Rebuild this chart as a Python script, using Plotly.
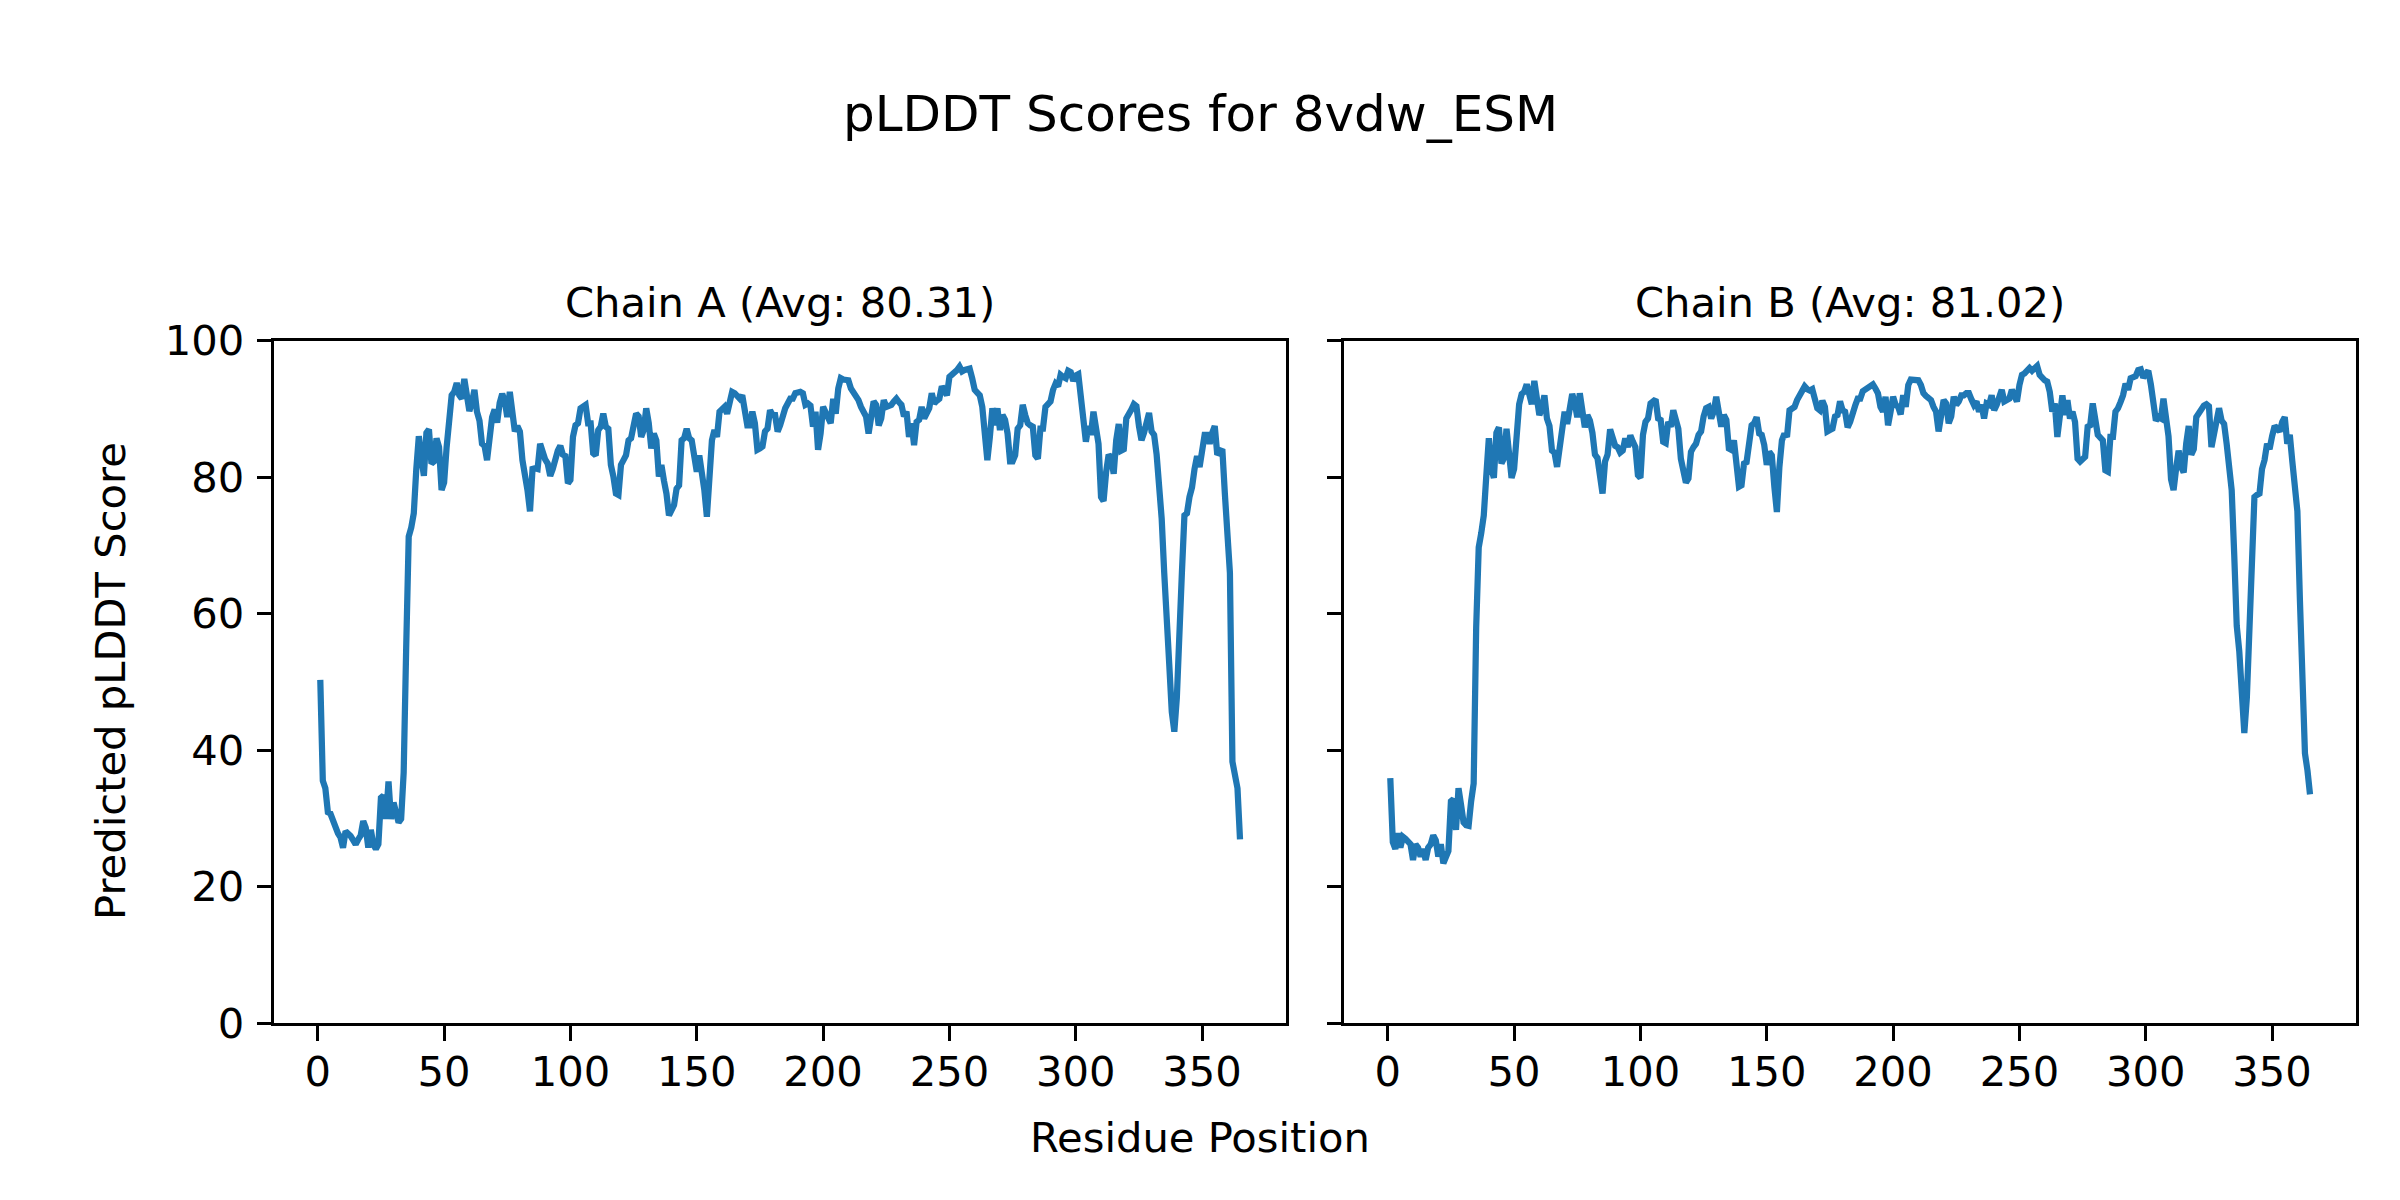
import plotly.graph_objects as go

# ---------------- data ----------------
chain_a_scores = [
    50.3, 35.5, 34.4, 30.9, 30.7, 29.5, 28.6, 27.8, 27.2, 25.7,
    28.1, 27.8, 27.4, 26.8, 26.2, 26.9, 27.5, 29.6, 28.6, 25.7,
    28.3, 26.2, 25.5, 26.2, 33.0, 33.3, 29.9, 35.4, 29.9, 32.3,
    30.5, 29.4, 29.9, 36.7, 55.0, 71.3, 72.6, 74.7, 81.2, 86.0,
    82.8, 80.2, 86.5, 87.0, 82.0, 82.3, 85.7, 84.4, 78.1, 79.2,
    84.4, 89.6, 92.0, 92.5, 93.8, 92.0, 91.5, 94.4, 92.2, 89.7,
    90.9, 92.8, 89.6, 88.3, 84.9, 84.6, 82.5, 86.0, 88.8, 89.9,
    88.0, 90.9, 92.2, 91.2, 88.8, 92.5, 89.9, 86.7, 87.5, 86.7,
    82.5, 80.7, 78.1, 75.0, 81.2, 81.3, 81.2, 84.9, 83.3, 82.6,
    82.0, 80.2, 81.2, 83.1, 83.9, 84.6, 83.3, 83.1, 79.1, 79.6,
    85.9, 87.6, 87.9, 90.1, 90.3, 90.6, 87.9, 87.9, 83.5, 83.2,
    86.9, 87.4, 89.3, 87.4, 87.1, 81.8, 80.1, 77.6, 77.4, 81.8,
    82.5, 83.2, 85.4, 85.7, 87.5, 89.3, 88.9, 85.9, 86.9, 90.1,
    87.9, 84.2, 86.4, 85.4, 80.1, 81.8, 79.5, 77.6, 74.4, 75.2,
    75.9, 78.3, 78.8, 85.4, 85.7, 87.1, 85.7, 85.4, 83.5, 80.8,
    83.2, 81.0, 78.1, 74.2, 82.0, 85.4, 86.9, 85.9, 89.6, 90.0,
    90.3, 89.3, 91.1, 92.5, 92.3, 91.8, 91.5, 92.0, 89.8, 87.6,
    87.6, 89.6, 87.9, 84.0, 84.2, 84.5, 86.7, 87.1, 89.8, 89.1,
    89.1, 86.7, 87.6, 89.1, 90.1, 90.8, 91.5, 91.5, 92.3, 92.4,
    92.5, 92.3, 90.6, 90.8, 90.5, 87.4, 89.6, 84.0, 86.4, 90.3,
    89.3, 88.6, 87.9, 91.5, 89.3, 93.0, 94.5, 94.3, 94.2, 94.2,
    93.0, 92.5, 92.0, 91.3, 90.3, 89.3, 88.9, 86.4, 89.6, 91.1,
    90.6, 87.6, 88.6, 91.3, 90.3, 90.5, 90.6, 91.1, 91.5, 91.0,
    90.6, 88.9, 89.6, 85.9, 87.9, 84.7, 88.1, 88.4, 90.3, 88.6,
    89.5, 90.1, 92.3, 90.8, 91.2, 91.5, 93.3, 92.8, 92.0, 94.7,
    95.0, 95.3, 95.7, 96.2, 95.5, 95.7, 95.9, 95.9, 94.5, 92.8,
    92.4, 92.0, 90.3, 87.0, 82.5, 85.9, 90.1, 87.6, 90.1, 86.9,
    89.1, 88.4, 86.4, 82.3, 82.3, 83.2, 87.1, 87.6, 90.6, 89.1,
    87.9, 87.6, 87.4, 83.2, 82.7, 87.1, 87.1, 90.3, 90.7, 91.1,
    92.8, 93.7, 93.3, 95.0, 94.7, 94.5, 95.6, 95.4, 94.1, 94.9,
    95.1, 91.5, 88.6, 85.2, 87.5, 86.2, 89.6, 87.0, 84.9, 77.1,
    76.5, 80.7, 83.3, 82.8, 80.5, 85.4, 87.8, 83.9, 84.1, 88.6,
    89.1, 89.9, 90.7, 90.4, 87.5, 85.4, 86.5, 88.1, 89.4, 86.7,
    86.2, 83.3, 79.1, 73.9, 66.0, 57.0, 52.5, 45.6, 42.7, 47.7,
    55.0, 66.0, 74.4, 74.7, 77.1, 78.5, 81.2, 83.1, 81.5, 83.3,
    86.2, 86.2, 84.9, 86.5, 87.5, 83.3, 83.6, 84.1, 77.6, 72.3,
    66.0, 38.3, 36.5, 34.4, 26.9,
]

chain_b_scores = [
    35.9, 26.5, 25.5, 27.8, 25.7, 27.3, 27.0, 26.6, 26.2, 23.9,
    26.2, 25.7, 24.4, 25.5, 23.9, 25.7, 26.2, 27.5, 26.8, 24.4,
    26.2, 23.4, 24.1, 25.2, 32.5, 32.8, 28.3, 34.4, 32.0, 29.4,
    29.0, 28.9, 32.5, 35.1, 58.0, 69.7, 71.8, 74.4, 80.2, 85.7,
    81.2, 79.9, 86.5, 87.3, 82.0, 82.8, 87.1, 83.9, 79.9, 81.2,
    85.4, 90.7, 92.2, 92.5, 93.6, 91.5, 90.7, 94.1, 92.0, 89.1,
    90.1, 92.0, 88.6, 87.5, 83.9, 83.6, 81.5, 84.4, 88.1, 89.6,
    87.8, 90.7, 92.2, 90.9, 88.8, 92.3, 89.9, 87.3, 89.1, 88.3,
    86.5, 83.3, 82.8, 80.2, 77.6, 82.3, 83.3, 87.0, 85.7, 84.6,
    84.4, 83.6, 83.9, 85.7, 84.4, 86.1, 85.2, 84.4, 80.3, 79.9,
    86.2, 88.1, 88.6, 90.8, 91.1, 91.4, 88.6, 88.4, 85.2, 85.0,
    88.1, 87.4, 89.8, 88.4, 87.1, 82.7, 80.5, 79.2, 79.8, 83.7,
    84.4, 84.9, 86.2, 86.7, 88.9, 90.1, 90.3, 88.6, 89.6, 91.8,
    89.6, 87.4, 89.1, 88.4, 84.2, 84.0, 85.4, 81.5, 78.6, 78.8,
    82.0, 82.2, 84.9, 87.6, 87.9, 88.8, 86.4, 86.2, 84.7, 81.8,
    83.7, 83.2, 78.6, 74.9, 81.5, 85.4, 86.4, 85.9, 89.8, 90.1,
    90.3, 91.3, 92.0, 93.0, 93.3, 92.9, 92.7, 92.9, 91.8, 90.1,
    89.8, 91.2, 90.3, 86.7, 86.9, 87.1, 88.9, 89.1, 91.1, 89.8,
    89.6, 87.3, 88.1, 89.6, 90.5, 91.5, 91.5, 92.6, 92.8, 93.0,
    93.3, 93.6, 93.0, 92.3, 90.3, 89.6, 91.8, 87.6, 89.6, 91.8,
    90.6, 90.3, 89.2, 92.0, 90.3, 93.5, 94.3, 94.2, 94.1, 94.2,
    93.5, 92.3, 91.9, 91.6, 91.3, 90.3, 89.6, 86.7, 89.1, 91.3,
    90.8, 87.9, 88.9, 91.8, 90.6, 91.1, 92.0, 92.0, 92.3, 92.3,
    91.4, 90.6, 91.1, 89.6, 90.6, 88.6, 90.8, 90.6, 92.0, 89.8,
    90.6, 91.8, 92.8, 91.1, 91.3, 91.5, 92.8, 91.7, 91.1, 93.5,
    95.0, 95.2, 95.6, 96.0, 95.6, 96.0, 96.3, 95.0, 94.5, 94.2,
    94.0, 92.5, 89.6, 90.8, 85.9, 89.1, 92.0, 89.1, 91.3, 88.6,
    89.6, 88.1, 82.7, 82.3, 82.6, 83.0, 87.4, 87.6, 90.8, 88.6,
    86.2, 85.8, 85.4, 81.0, 80.8, 85.9, 85.9, 89.6, 90.1, 91.0,
    92.0, 93.7, 92.8, 94.5, 94.6, 94.8, 95.7, 95.8, 94.6, 95.0,
    95.6, 93.6, 90.7, 88.3, 88.8, 88.6, 91.5, 88.3, 86.0, 79.7,
    78.1, 81.2, 83.9, 81.5, 80.7, 84.9, 87.5, 83.3, 84.1, 88.8,
    89.4, 90.1, 90.5, 90.7, 90.4, 84.4, 86.0, 88.1, 90.1, 88.3,
    87.8, 84.9, 81.2, 78.1, 68.7, 58.2, 54.5, 47.5, 42.5, 47.7,
    56.6, 67.0, 77.1, 77.4, 77.6, 81.2, 82.5, 84.9, 84.1, 86.0,
    87.5, 87.1, 86.7, 88.1, 88.8, 84.9, 86.2, 82.3, 79.1, 75.0,
    62.0, 48.0, 39.5, 37.0, 33.5,
]

residues_a = list(range(1, len(chain_a_scores) + 1))
residues_b = list(range(1, len(chain_b_scores) + 1))

chain_titles = ["Chain A (Avg: 80.31)", "Chain B (Avg: 81.02)"]
x_tick_vals = [0, 50, 100, 150, 200, 250, 300, 350]
y_tick_vals = [0, 20, 40, 60, 80, 100]
main_title = "pLDDT Scores for 8vdw_ESM"
x_label = "Residue Position"
y_label = "Predicted pLDDT Score"

# ---------------- figure ----------------
W, H = 2400, 1200
FONT = "DejaVu Sans"
LINE_BLUE = "#1f77b4"
TICK_PX = 41.67

fig = go.Figure()
fig.add_trace(go.Scatter(x=residues_a, y=chain_a_scores, mode="lines",
                         line=dict(color=LINE_BLUE, width=6.25),
                         xaxis="x", yaxis="y", showlegend=False))
fig.add_trace(go.Scatter(x=residues_b, y=chain_b_scores, mode="lines",
                         line=dict(color=LINE_BLUE, width=6.25),
                         xaxis="x2", yaxis="y2", showlegend=False))

left_dom = [274.3 / W, 1286.0 / W]
right_dom = [1344.3 / W, 2356.0 / W]
y_dom = [1 - 1023.0 / H, 1 - 340.7 / H]

def xaxis_cfg(domain, anchor):
    return dict(domain=domain, anchor=anchor, range=[-17.2, 383.2],
                tickmode="array", tickvals=x_tick_vals,
                ticks="outside", ticklen=14.6, tickwidth=3.33, tickcolor="black",
                showline=True, linewidth=3.33, linecolor="black", mirror=True,
                showgrid=False, zeroline=False,
                tickfont=dict(family=FONT, size=TICK_PX, color="black"),
                ticklabelstandoff=-5)

def yaxis_cfg(anchor, labels):
    return dict(domain=y_dom, anchor=anchor, range=[0, 100],
                tickmode="array", tickvals=y_tick_vals,
                showticklabels=labels,
                ticks="outside", ticklen=14.6, tickwidth=3.33, tickcolor="black",
                showline=True, linewidth=3.33, linecolor="black", mirror=True,
                showgrid=False, zeroline=False,
                tickfont=dict(family=FONT, size=TICK_PX, color="black"),
                ticklabelstandoff=4)

annotations = [
    dict(text=main_title, x=0.5, y=1 - 114 / H, xref="paper", yref="paper",
         xanchor="center", yanchor="middle", showarrow=False,
         font=dict(family=FONT, size=50, color="black")),
    dict(text=chain_titles[0], x=(left_dom[0] + left_dom[1]) / 2, y=1 - 302 / H,
         xref="paper", yref="paper", xanchor="center", yanchor="middle",
         showarrow=False, font=dict(family=FONT, size=TICK_PX, color="black")),
    dict(text=chain_titles[1], x=(right_dom[0] + right_dom[1]) / 2, y=1 - 302 / H,
         xref="paper", yref="paper", xanchor="center", yanchor="middle",
         showarrow=False, font=dict(family=FONT, size=TICK_PX, color="black")),
    dict(text=x_label, x=0.5, y=1 - 1137 / H, xref="paper", yref="paper",
         xanchor="center", yanchor="middle", showarrow=False,
         font=dict(family=FONT, size=TICK_PX, color="black")),
    dict(text=y_label, x=110 / W, y=1 - 681 / H, xref="paper", yref="paper",
         xanchor="center", yanchor="middle", showarrow=False, textangle=-90,
         font=dict(family=FONT, size=TICK_PX, color="black")),
]

fig.update_layout(
    width=W, height=H,
    margin=dict(l=0, r=0, t=0, b=0, autoexpand=False),
    paper_bgcolor="white", plot_bgcolor="white",
    font=dict(family=FONT, color="black"),
    xaxis=xaxis_cfg(left_dom, "y"),
    yaxis=yaxis_cfg("x", True),
    xaxis2=xaxis_cfg(right_dom, "y2"),
    yaxis2=yaxis_cfg("x2", False),
    annotations=annotations,
    showlegend=False,
)

fig.write_html(
    "out.html",
    config={"displayModeBar": False},
    post_script="document.body.style.margin='0px';document.body.style.overflow='hidden';",
)
